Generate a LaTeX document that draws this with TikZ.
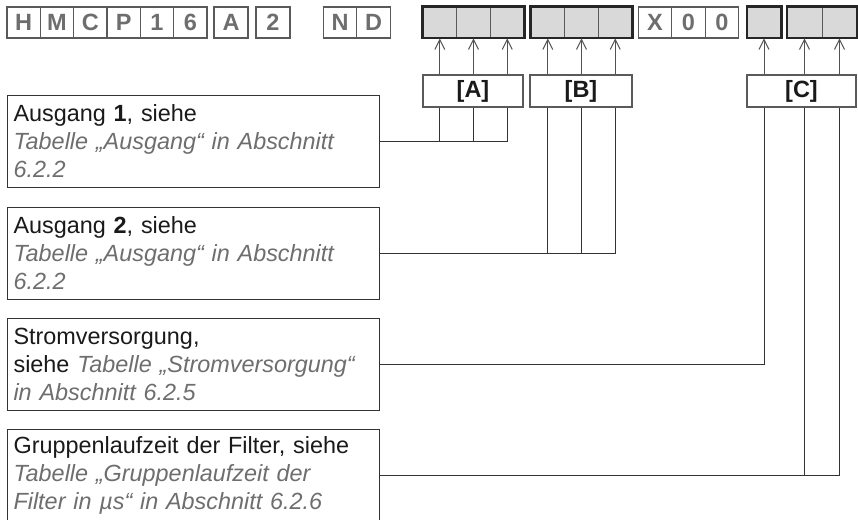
\documentclass[tikz,border=0pt]{standalone}
\usepackage{fontspec}
\setmainfont{Liberation Sans}
\usetikzlibrary{arrows.meta}
\definecolor{txt}{HTML}{1A1A1A}
\definecolor{gtxt}{HTML}{6E6E6E}
\definecolor{cellbd}{HTML}{5A5A5A}
\definecolor{cellfill}{HTML}{D9D9D9}
\definecolor{ln}{HTML}{333333}
\begin{document}
\begin{tikzpicture}[x=1pt,y=-1pt,
  code/.style={draw=cellbd,line width=1.1pt,minimum height=31pt,inner sep=0pt,font=\fontsize{23.5}{23.5}\selectfont\bfseries,text=gtxt},
  slot/.style={draw=cellbd,line width=0.8pt,fill=cellfill,minimum height=31pt,inner sep=0pt},
  grp/.style={draw=black!85,line width=2.2pt},
  tag/.style={draw=cellbd,line width=1.1pt,minimum height=32pt,inner sep=0pt,font=\fontsize{23.5}{23.5}\selectfont\bfseries,text=txt},
  desc/.style={draw=ln,line width=1.1pt,minimum width=372pt,minimum height=91.5pt,text width=360pt,align=left,inner sep=0pt,anchor=north west,font=\fontsize{23.4}{28}\selectfont,text=txt},
  conn/.style={draw=ln,line width=1pt},
  arr/.style={draw=ln!85,line width=1pt,-{Straight Barb[length=10pt,width=10pt,line width=1pt]}}
]
\useasboundingbox[fill=white] (0,0) rectangle (858,519);
% white code cells
\node[code,minimum width=33.33pt] (k1) at (23.7,22.5) {H};
\node[code,minimum width=33.33pt] (k2) at (57,22.5) {M};
\node[code,minimum width=33.33pt] (k3) at (90.3,22.5) {C};
\node[code,minimum width=33.33pt] (k4) at (123.7,22.5) {P};
\node[code,minimum width=33.33pt] (k5) at (157,22.5) {1};
\node[code,minimum width=33.33pt] (k6) at (190.3,22.5) {6};
\node[code,minimum width=34pt] (k7) at (231,22.5) {A};
\node[code,minimum width=34pt] (k8) at (273,22.5) {2};
\node[code,minimum width=33.5pt] (k9) at (340,22.5) {N};
\node[code,minimum width=33.5pt] (k10) at (373.5,22.5) {D};
\node[code,minimum width=33.67pt] (x1) at (655,22.5) {X};
\node[code,minimum width=33.67pt] (x2) at (688.5,22.5) {0};
\node[code,minimum width=33.67pt] (x3) at (722,22.5) {0};
% gray slots
\node[slot,minimum width=33.67pt] (a1) at (439.8,22.5) {};
\node[slot,minimum width=33.67pt] (a2) at (473.5,22.5) {};
\node[slot,minimum width=33.67pt] (a3) at (507.2,22.5) {};
\node[slot,minimum width=33.67pt] (b1) at (547.8,22.5) {};
\node[slot,minimum width=33.67pt] (b2) at (581.5,22.5) {};
\node[slot,minimum width=33.67pt] (b3) at (615.2,22.5) {};
\node[slot,minimum width=34pt] (c1) at (764,22.5) {};
\node[slot,minimum width=35pt] (c2) at (804.5,22.5) {};
\node[slot,minimum width=35pt] (c3) at (839.5,22.5) {};
\draw[grp] (a1.north west) rectangle (a3.south east);
\draw[grp] (b1.north west) rectangle (b3.south east);
\draw[grp] (c1.north west) rectangle (c1.south east);
\draw[grp] (c2.north west) rectangle (c3.south east);
% tags
\node[tag,minimum width=100pt] (ta) at (473,91) {[A]};
\node[tag,minimum width=102pt] (tb) at (581,91) {[B]};
\node[tag,minimum width=109pt] (tc) at (801.5,91) {[C]};
% arrows
\foreach \s/\t in {a1/ta,a2/ta,a3/ta,b1/tb,b2/tb,b3/tb,c1/tc,c2/tc,c3/tc}
  \draw[arr] (\s |- \t.north) -- (\s.south);
% description boxes
\node[desc] (d1) at (7,95) {Ausgang \textbf{1}, siehe\\{\itshape\color{gtxt}Tabelle „Ausgang“ in Abschnitt\\6.2.2}};
\node[desc] (d2) at (7,207) {Ausgang \textbf{2}, siehe\\{\itshape\color{gtxt}Tabelle „Ausgang“ in Abschnitt\\6.2.2}};
\node[desc] (d3) at (7,318) {Stromversorgung,\\siehe {\itshape\color{gtxt}Tabelle „Stromversorgung“\\in Abschnitt 6.2.5}};
\node[desc] (d4) at (7,429) {Gruppenlaufzeit der Filter, siehe\\{\itshape\color{gtxt}Tabelle „Gruppenlaufzeit der\\Filter in µs“ in Abschnitt 6.2.6}};
% connectors
\draw[conn] (d1.east) -| (a3 |- ta.south);
\draw[conn] (a1 |- ta.south) -- (a1 |- d1.east);
\draw[conn] (a2 |- ta.south) -- (a2 |- d1.east);
\draw[conn] (d2.east) -| (b3 |- tb.south);
\draw[conn] (b1 |- tb.south) -- (b1 |- d2.east);
\draw[conn] (b2 |- tb.south) -- (b2 |- d2.east);
\draw[conn] (d3.east) -| (c1 |- tc.south);
\draw[conn] (d4.east) -| (c3 |- tc.south);
\draw[conn] (c2 |- tc.south) -- (c2 |- d4.east);
\end{tikzpicture}
\end{document}
